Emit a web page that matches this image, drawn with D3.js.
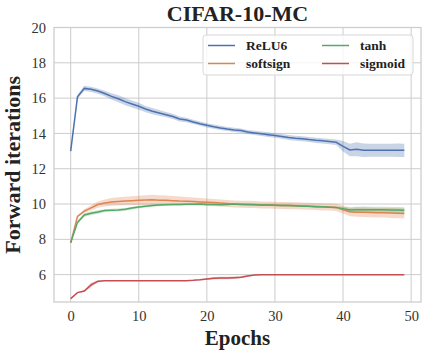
<!DOCTYPE html>
<html>
<head>
<meta charset="utf-8">
<script src="https://cdn.jsdelivr.net/npm/d3@7"></script>
<style>
  body { margin: 0; background: #fff; }
  svg { display: block; font-family: "Liberation Serif", "DejaVu Serif", serif; }
</style>
</head>
<body>
<svg id="chart" width="429" height="355"></svg>
<script>
// data
const epochs = d3.range(0, 50);
const seriesNames = ["ReLU6", "softsign", "tanh", "sigmoid"];
const relu6 = [13.0, 16.07, 16.55, 16.5, 16.4, 16.26, 16.1, 15.96, 15.8, 15.67,
  15.54, 15.38, 15.26, 15.16, 15.06, 14.96, 14.82, 14.76, 14.65, 14.55,
  14.46, 14.38, 14.31, 14.25, 14.2, 14.16, 14.08, 14.03, 13.98, 13.93,
  13.88, 13.83, 13.77, 13.73, 13.7, 13.65, 13.61, 13.58, 13.54, 13.5,
  13.27, 13.06, 13.1, 13.05, 13.05, 13.05, 13.05, 13.05, 13.05, 13.04];
const softsign = [7.8, 9.3, 9.6, 9.78, 9.97, 10.06, 10.12, 10.15, 10.17, 10.19,
  10.21, 10.23, 10.24, 10.22, 10.21, 10.19, 10.17, 10.16, 10.14, 10.12,
  10.1, 10.08, 10.06, 10.03, 10.0, 9.99, 9.98, 9.97, 9.95, 9.94,
  9.93, 9.92, 9.91, 9.9, 9.89, 9.87, 9.86, 9.84, 9.83, 9.81,
  9.68, 9.56, 9.54, 9.53, 9.52, 9.51, 9.5, 9.49, 9.48, 9.47];
const tanh = [7.8, 8.96, 9.38, 9.48, 9.55, 9.63, 9.65, 9.66, 9.7, 9.77,
  9.83, 9.87, 9.91, 9.94, 9.96, 9.97, 9.98, 9.99, 9.99, 10.0,
  9.98, 9.97, 9.96, 9.98, 10.0, 9.98, 9.97, 9.96, 9.95, 9.94,
  9.93, 9.92, 9.91, 9.9, 9.88, 9.87, 9.85, 9.84, 9.82, 9.81,
  9.74, 9.66, 9.67, 9.68, 9.68, 9.67, 9.67, 9.66, 9.66, 9.65];
const sigmoid = [4.64, 4.98, 5.07, 5.42, 5.62, 5.66, 5.66, 5.66, 5.66, 5.66,
  5.66, 5.66, 5.66, 5.66, 5.66, 5.66, 5.66, 5.66, 5.68, 5.71,
  5.75, 5.79, 5.81, 5.81, 5.83, 5.85, 5.92, 5.98, 6.0, 6.0,
  6.0, 6.0, 6.0, 6.0, 6.0, 6.0, 6.0, 6.0, 6.0, 6.0,
  6.0, 6.0, 6.0, 6.0, 6.0, 6.0, 6.0, 6.0, 6.0, 6.0];

// half-width of the shaded band
const relu6Sd = [0.02, 0.1, 0.15, 0.15, 0.15, 0.15, 0.18, 0.2, 0.2, 0.2,
  0.2, 0.18, 0.18, 0.16, 0.15, 0.15, 0.14, 0.13, 0.12, 0.12,
  0.12, 0.12, 0.12, 0.12, 0.12, 0.12, 0.12, 0.12, 0.13, 0.13,
  0.13, 0.13, 0.14, 0.14, 0.14, 0.14, 0.15, 0.15, 0.15, 0.15,
  0.3, 0.35, 0.4, 0.38, 0.37, 0.37, 0.37, 0.37, 0.38, 0.38];
const softsignSd = [0.02, 0.05, 0.1, 0.15, 0.18, 0.2, 0.22, 0.23, 0.24, 0.25,
  0.26, 0.27, 0.28, 0.28, 0.27, 0.26, 0.25, 0.24, 0.23, 0.22,
  0.21, 0.2, 0.2, 0.2, 0.2, 0.2, 0.2, 0.2, 0.2, 0.2,
  0.2, 0.2, 0.2, 0.2, 0.2, 0.2, 0.2, 0.2, 0.2, 0.2,
  0.22, 0.25, 0.26, 0.27, 0.27, 0.27, 0.27, 0.28, 0.28, 0.28];
const tanhSd = [0.02, 0.08, 0.1, 0.1, 0.1, 0.08, 0.08, 0.08, 0.08, 0.08,
  0.07, 0.07, 0.06, 0.06, 0.05, 0.05, 0.05, 0.05, 0.05, 0.05,
  0.05, 0.05, 0.05, 0.05, 0.05, 0.05, 0.05, 0.05, 0.05, 0.05,
  0.05, 0.05, 0.05, 0.05, 0.05, 0.05, 0.05, 0.05, 0.05, 0.05,
  0.1, 0.15, 0.18, 0.18, 0.17, 0.17, 0.17, 0.17, 0.17, 0.17];
const sigmoidSd = [0, 0.02, 0.06, 0.12, 0.05, 0, 0, 0, 0, 0,
  0, 0, 0, 0, 0, 0, 0, 0, 0, 0.03,
  0.05, 0.07, 0.07, 0.07, 0.07, 0.06, 0.04, 0.02, 0, 0,
  0, 0, 0, 0, 0, 0, 0, 0, 0, 0,
  0, 0, 0, 0, 0, 0, 0, 0, 0, 0];

const xTicks = [0, 10, 20, 30, 40, 50];
const yTicks = [6, 8, 10, 12, 14, 16, 18, 20];
const colors = ["#4C72B0", "#DD8452", "#55A868", "#C44E52"];

const series = [
  {name: "ReLU6", mean: relu6, sd: relu6Sd, color: colors[0]},
  {name: "softsign", mean: softsign, sd: softsignSd, color: colors[1]},
  {name: "tanh", mean: tanh, sd: tanhSd, color: colors[2]},
  {name: "sigmoid", mean: sigmoid, sd: sigmoidSd, color: colors[3]},
];

const marginLeft = 54, marginRight = 8, marginTop = 27.5, marginBottom = 53;
const width = 429, height = 355;

const x = d3.scaleLinear()
    .domain([-2.45, 51.45])
    .range([marginLeft, width - marginRight]);
const y = d3.scaleLinear()
    .domain([4.45, 20])
    .range([height - marginBottom, marginTop]);

const svg = d3.select("#chart");

// grid
svg.append("g")
    .attr("stroke", "#cccccc")
    .attr("stroke-width", 1)
  .call(g => g.selectAll("line.vx").data(xTicks).join("line")
      .attr("x1", d => x(d)).attr("x2", d => x(d))
      .attr("y1", marginTop).attr("y2", height - marginBottom))
  .call(g => g.selectAll("line.hy").data(yTicks).join("line")
      .attr("y1", d => y(d)).attr("y2", d => y(d))
      .attr("x1", marginLeft).attr("x2", width - marginRight));

// bands
const area = d3.area()
    .x((d, i) => x(epochs[i]))
    .y0(d => y(d[0] - d[1]))
    .y1(d => y(d[0] + d[1]));

svg.append("g")
  .selectAll("path")
  .data(series)
  .join("path")
    .attr("fill", d => d.color)
    .attr("fill-opacity", 0.3)
    .attr("d", s => area(s.mean.map((m, i) => [m, s.sd[i]])));

// lines
const line = d3.line()
    .x((d, i) => x(epochs[i]))
    .y(d => y(d));

svg.append("g")
    .attr("fill", "none")
    .attr("stroke-width", 1.5)
  .selectAll("path")
  .data(series)
  .join("path")
    .attr("stroke", d => d.color)
    .attr("d", d => line(d.mean));

// frame
svg.append("rect")
    .attr("x", marginLeft).attr("y", marginTop)
    .attr("width", width - marginRight - marginLeft)
    .attr("height", height - marginBottom - marginTop)
    .attr("fill", "none")
    .attr("stroke", "#cccccc")
    .attr("stroke-width", 1.25);

// axes (labels only, no tick marks)
svg.append("g")
    .attr("transform", `translate(0,${height - marginBottom})`)
    .call(d3.axisBottom(x).tickValues(xTicks).tickSize(0).tickPadding(9))
    .call(g => g.select(".domain").remove())
    .call(g => g.selectAll("text")
        .attr("font-family", "Liberation Serif, serif")
        .attr("font-size", 14.5)
        .attr("fill", "#333"));

svg.append("g")
    .attr("transform", `translate(${marginLeft},0)`)
    .call(d3.axisLeft(y).tickValues(yTicks).tickSize(0).tickPadding(8))
    .call(g => g.select(".domain").remove())
    .call(g => g.selectAll("text")
        .attr("font-family", "Liberation Serif, serif")
        .attr("font-size", 14.5)
        .attr("fill", "#333"));

// title and axis labels
svg.append("text")
    .attr("x", (marginLeft + width - marginRight) / 2)
    .attr("y", 21)
    .attr("text-anchor", "middle")
    .attr("font-size", 22)
    .attr("font-weight", "bold")
    .attr("fill", "#222")
    .text("CIFAR-10-MC");

svg.append("text")
    .attr("x", (marginLeft + width - marginRight) / 2)
    .attr("y", 345)
    .attr("text-anchor", "middle")
    .attr("font-size", 21)
    .attr("font-weight", "bold")
    .attr("fill", "#222")
    .text("Epochs");

svg.append("text")
    .attr("transform", `translate(20,${(marginTop + height - marginBottom) / 2}) rotate(-90)`)
    .attr("text-anchor", "middle")
    .attr("font-size", 22)
    .attr("font-weight", "bold")
    .attr("fill", "#222")
    .text("Forward iterations");

// legend
const legend = svg.append("g");
legend.append("rect")
    .attr("x", 203).attr("y", 35)
    .attr("width", 210).attr("height", 40)
    .attr("rx", 3)
    .attr("fill", "#fff")
    .attr("fill-opacity", 0.8)
    .attr("stroke", "#d8d8d8");

const legendPos = [[208, 45.5], [208, 63.5], [322, 45.5], [322, 63.5]];
const items = legend.selectAll("g.item")
  .data(series)
  .join("g")
    .attr("transform", (d, i) => `translate(${legendPos[i][0]},${legendPos[i][1]})`);
items.append("line")
    .attr("x1", 0).attr("x2", 27)
    .attr("stroke", d => d.color)
    .attr("stroke-width", 1.5);
items.append("text")
    .attr("x", 38)
    .attr("dy", "0.35em")
    .attr("font-size", 13.5)
    .attr("font-weight", "bold")
    .attr("fill", "#222")
    .text(d => d.name);
</script>
</body>
</html>
